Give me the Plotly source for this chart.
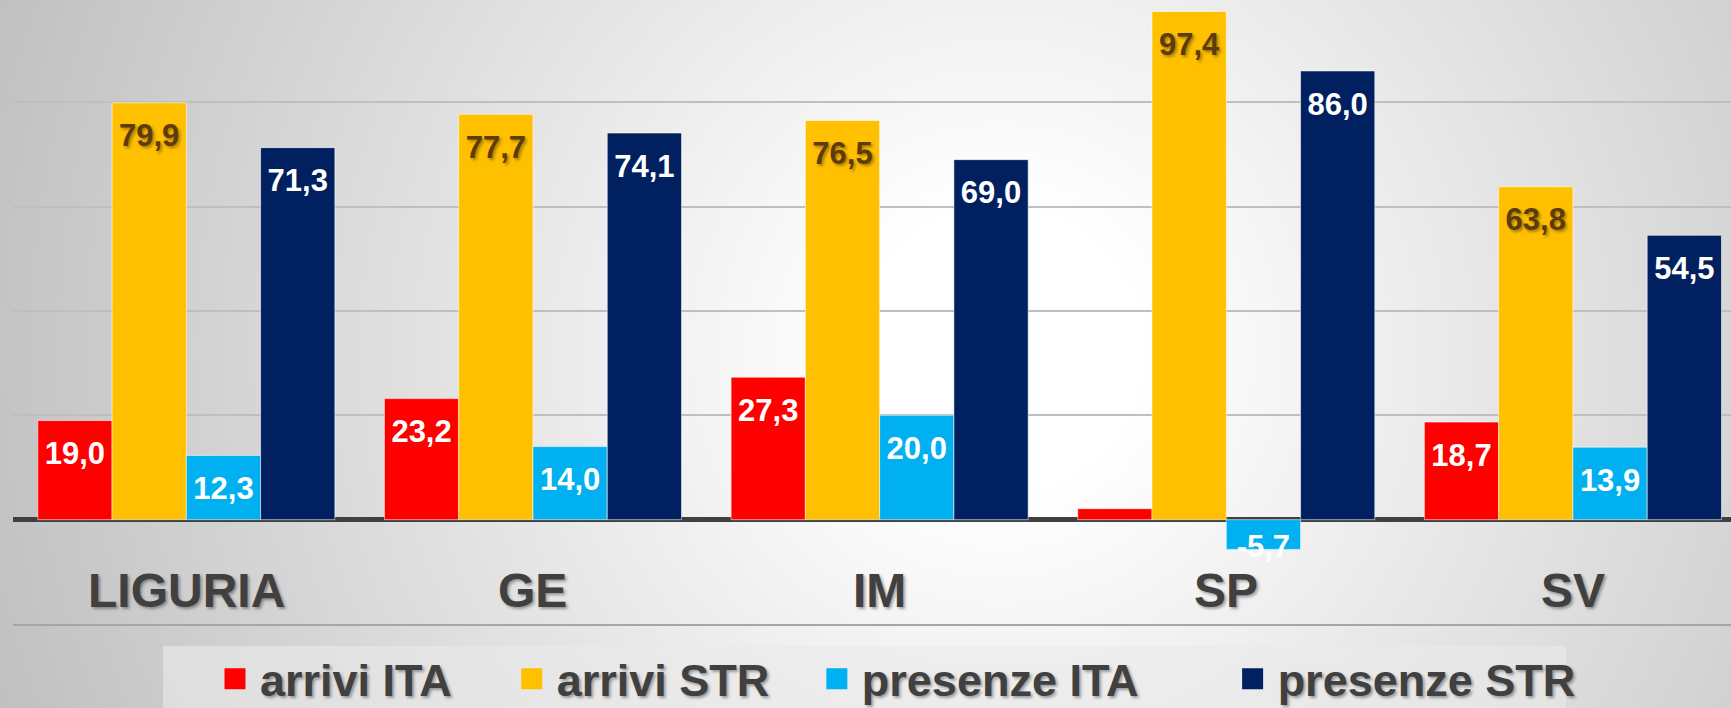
import base64
import plotly.graph_objects as go

# ---------------- data ----------------
categories = ["LIGURIA", "GE", "IM", "SP", "SV"]
series_names = ["arrivi ITA", "arrivi STR", "presenze ITA", "presenze STR"]
arrivi_ita = [19.0, 23.2, 27.3, 2.1, 18.7]
arrivi_str = [79.9, 77.7, 76.5, 97.4, 63.8]
presenze_ita = [12.3, 14.0, 20.0, -5.7, 13.9]
presenze_str = [71.3, 74.1, 69.0, 86.0, 54.5]
y_ticks = [-20, 0, 20, 40, 60, 80]
hidden_labels = {("arrivi ITA", "SP")}

series_values = [arrivi_ita, arrivi_str, presenze_ita, presenze_str]
colors = ["#FF0000", "#FFC000", "#00B0F0", "#002060"]
label_colors = ["#FFFFFF", "#5E3B0B", "#FFFFFF", "#FFFFFF"]
label_shadows = ["none", "2px 2px 3px rgba(0,0,0,0.35)", "none", "none"]
# trailing spacing that widens the legend entries
legend_pad = ["\u00a0" * 4, "\u00a0" * 3, "\u00a0" * 6 + "\u2009", ""]

FONT = "Liberation Sans, Arial, sans-serif"
W, H = 1731, 708
ML, MR, MT, MB = 13, 0, 0, 84
PW, PH = W - ML - MR, H - MT - MB


def fmt(v):
    return f"{v:.1f}".replace(".", ",")


def px_x(p):
    return (p - ML) / PW


def px_y(p):
    return (PH + MT - p) / PH


fig = go.Figure()

for i, (name, vals) in enumerate(zip(series_names, series_values)):
    fig.add_trace(go.Bar(
        x=categories, y=vals, name=name, offsetgroup=str(i),
        marker=dict(color=colors[i], line=dict(color="rgba(255,255,255,0.55)", width=1)),
        showlegend=False, hoverinfo="skip",
    ))

for i, (name, vals) in enumerate(zip(series_names, series_values)):
    labels = ["" if (name, c) in hidden_labels else fmt(v) for c, v in zip(categories, vals)]
    fig.add_trace(go.Scatter(
        x=categories, y=vals, mode="markers+text", offsetgroup=str(i),
        text=labels,
        textposition=["bottom center" if v >= 0 else "middle center" for v in vals],
        marker=dict(size=31, opacity=0, color=colors[i]),
        textfont=dict(family=FONT, size=31, color=label_colors[i], weight="bold",
                      shadow=label_shadows[i]),
        showlegend=False, hoverinfo="skip", cliponaxis=False,
    ))

for i, name in enumerate(series_names):
    fig.add_trace(go.Scatter(
        x=[None], y=[None], mode="markers", offsetgroup=str(i),
        name=name + legend_pad[i],
        marker=dict(symbol="square", size=16, color=colors[i],
                    line=dict(color=colors[i], width=5)),
        hoverinfo="skip",
    ))

for c in categories:
    fig.add_annotation(
        x=c, y=-13.5, xref="x", yref="y", text=c, showarrow=False,
        font=dict(family=FONT, size=48, color="#404040", weight="bold",
                  shadow="2px 2px 3px rgba(0,0,0,0.35)"),
    )

# legend backdrop box
fig.add_shape(type="rect", xref="paper", yref="paper",
              x0=px_x(163), x1=px_x(1566), y0=px_y(H + 5), y1=px_y(646),
              fillcolor="rgba(234,234,234,0.62)", line=dict(width=0), layer="below")

svg = f'''<svg xmlns="http://www.w3.org/2000/svg" width="{W}" height="{H}" viewBox="0 0 {W} {H}" preserveAspectRatio="none">
<defs><radialGradient id="g" gradientUnits="userSpaceOnUse" cx="1000" cy="350" r="1150">
<stop offset="0" stop-color="#ffffff"/><stop offset="0.12" stop-color="#ffffff"/>
<stop offset="1" stop-color="#bababa"/></radialGradient></defs>
<rect x="0" y="0" width="{W}" height="{H}" fill="url(#g)"/></svg>'''
uri = "data:image/svg+xml;base64," + base64.b64encode(svg.encode()).decode()

fig.update_layout(
    width=W, height=H,
    margin=dict(l=ML, r=MR, t=MT, b=MB, pad=0, autoexpand=False),
    paper_bgcolor="rgba(0,0,0,0)", plot_bgcolor="rgba(0,0,0,0)",
    barmode="group", bargap=0.143, bargroupgap=0,
    scattermode="group", scattergap=0.143,
    images=[dict(source=uri, xref="paper", yref="paper",
                 x=-ML / PW, y=1 + MT / PH, sizex=W / PW, sizey=H / PH,
                 xanchor="left", yanchor="top", sizing="stretch", layer="below")],
    xaxis=dict(type="category", range=[-0.5, 4.456], showticklabels=False,
               showgrid=False, zeroline=False, showline=True,
               linecolor="#a6a6a6", linewidth=2, ticks="", fixedrange=True),
    yaxis=dict(range=[-20, 99.6], tickvals=y_ticks, showticklabels=False,
               showgrid=True, gridcolor="#bfbfbf", gridwidth=1.5,
               zeroline=True, zerolinecolor="#404040", zerolinewidth=5,
               showline=False, ticks="", fixedrange=True),
    legend=dict(orientation="h", x=px_x(210), xanchor="left",
                y=px_y(643), yanchor="top", itemwidth=40,
                bgcolor="rgba(0,0,0,0)", borderwidth=0,
                font=dict(family=FONT, size=45, color="#404040", weight="bold",
                          shadow="2px 2px 3px rgba(0,0,0,0.35)")),
    showlegend=True,
)

fig.write_html(
    "out.html",
    config={"displayModeBar": False},
    post_script="document.body.style.margin='0';document.body.style.overflow='hidden';",
)
